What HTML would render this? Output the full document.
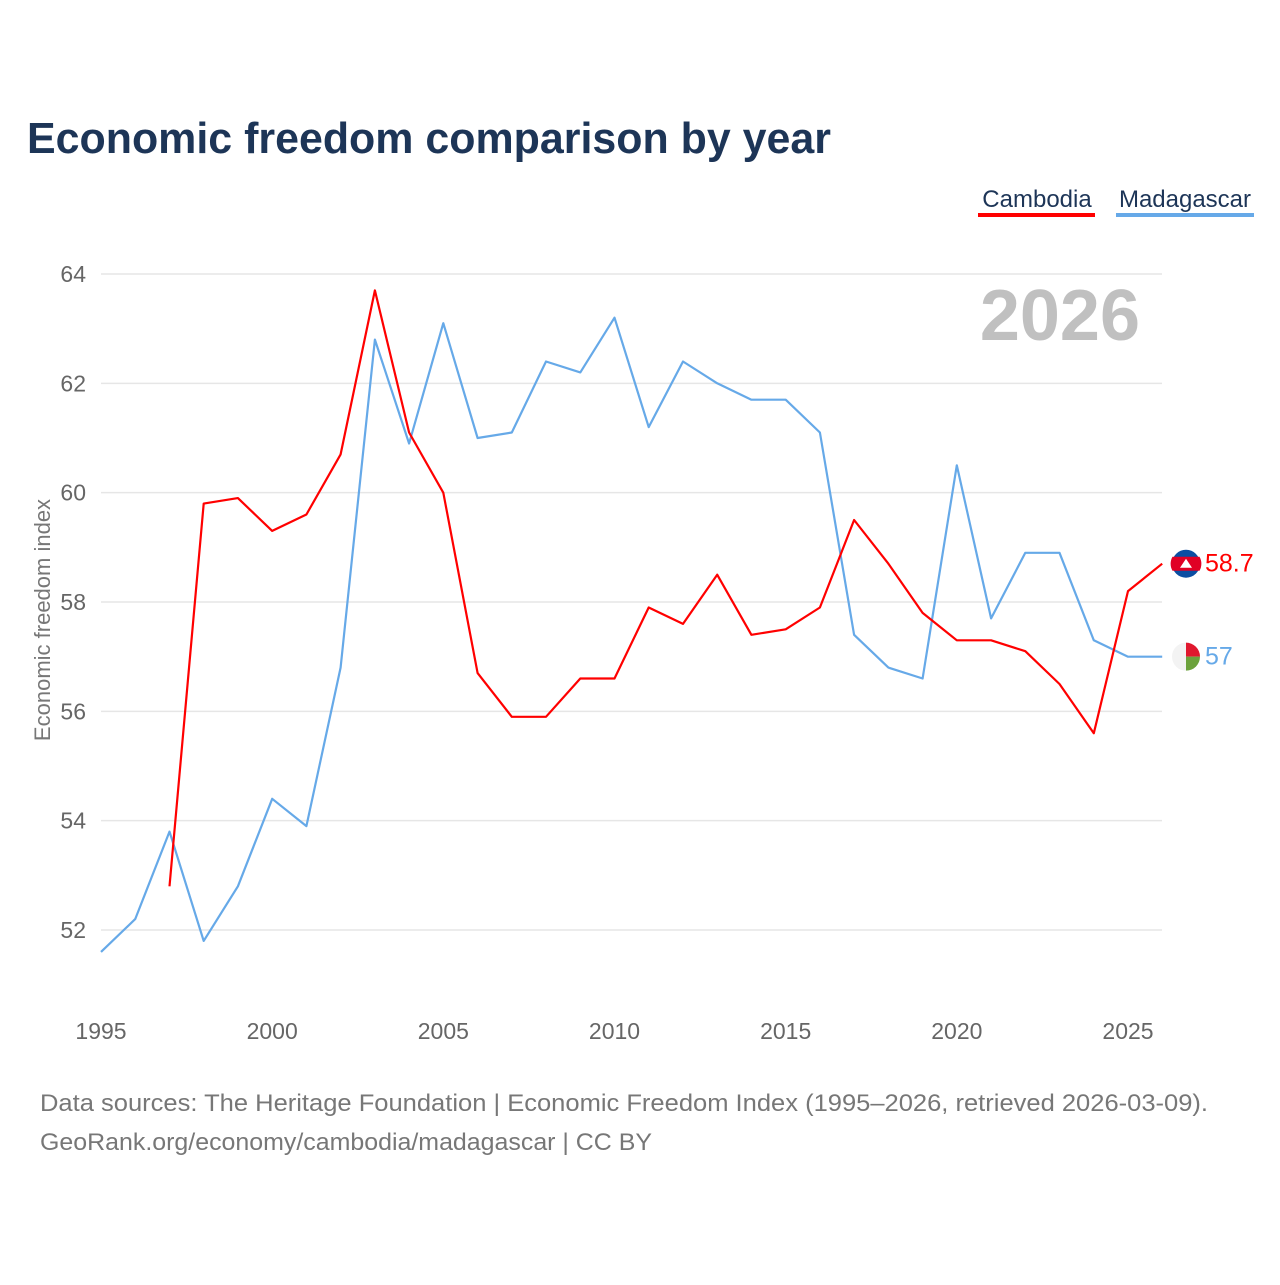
<!DOCTYPE html>
<html><head><meta charset="utf-8"><style>
body{margin:0;background:#fff;font-family:"Liberation Sans",sans-serif;}
</style></head><body>
<svg id="chart" width="1280" height="1280" viewBox="0 0 1280 1280" xmlns="http://www.w3.org/2000/svg" font-family="Liberation Sans, sans-serif">
<rect width="1280" height="1280" fill="#fff"/>
<text x="27" y="153" font-size="44" font-weight="bold" fill="#1d3557" textLength="804" lengthAdjust="spacingAndGlyphs">Economic freedom comparison by year</text>
<g>
<text x="1037" y="207" font-size="24" fill="#1d3557" text-anchor="middle">Cambodia</text>
<rect x="978" y="213" width="117" height="4" fill="#ff0000"/>
<text x="1185" y="207" font-size="24" fill="#1d3557" text-anchor="middle">Madagascar</text>
<rect x="1116" y="213" width="138" height="4" fill="#66a9e8"/>
</g>
<text x="1140" y="340" font-size="72" font-weight="bold" fill="#c0c0c0" text-anchor="end">2026</text>
<text transform="translate(50,620) rotate(-90)" font-size="22" fill="#777" text-anchor="middle">Economic freedom index</text>
<g id="grid"></g><g id="lines"></g><g id="ends"></g>
<text x="40" y="1111" font-size="24" fill="#777" textLength="1168" lengthAdjust="spacingAndGlyphs">Data sources: The Heritage Foundation | Economic Freedom Index (1995–2026, retrieved 2026-03-09).</text>
<text x="40" y="1150" font-size="24" fill="#777" textLength="612" lengthAdjust="spacingAndGlyphs">GeoRank.org/economy/cambodia/madagascar | CC BY</text>
</svg>
<script>
const years = [1995,1996,1997,1998,1999,2000,2001,2002,2003,2004,2005,2006,2007,2008,2009,2010,2011,2012,2013,2014,2015,2016,2017,2018,2019,2020,2021,2022,2023,2024,2025,2026];
const cambodia = [null,null,52.8,59.8,59.9,59.3,59.6,60.7,63.7,61.1,60.0,56.7,55.9,55.9,56.6,56.6,57.9,57.6,58.5,57.4,57.5,57.9,59.5,58.7,57.8,57.3,57.3,57.1,56.5,55.6,58.2,58.7];
const madagascar = [51.6,52.2,53.8,51.8,52.8,54.4,53.9,56.8,62.8,60.9,63.1,61.0,61.1,62.4,62.2,63.2,61.2,62.4,62.0,61.7,61.7,61.1,57.4,56.8,56.6,60.5,57.7,58.9,58.9,57.3,57.0,57.0];
const yTicks = [52,54,56,58,60,62,64];
const xTicks = [1995,2000,2005,2010,2015,2020,2025];
const NS="http://www.w3.org/2000/svg";
const x = v => 101 + (v-1995)*(1027/30);
const y = v => 930 - (v-52)*(656/12);
function mk(tag, attrs, parent){const e=document.createElementNS(NS,tag);for(const k in attrs)e.setAttribute(k,attrs[k]);parent.appendChild(e);return e;}
const grid=document.getElementById('grid');
yTicks.forEach(t=>{
  const l=mk('line',{x1:101,x2:1162,y1:y(t),y2:y(t),stroke:'#e6e6e6','stroke-width':1.5},grid);
  
  
  const tx=mk('text',{x:86,y:y(t)+8,'font-size':23,fill:'#666','text-anchor':'end'},grid);
  tx.textContent=t;
  
  
});
xTicks.forEach(t=>{
  const tx=mk('text',{x:x(t),y:1039,'font-size':23,fill:'#666','text-anchor':'middle'},grid);
  tx.textContent=t;
  
  
});
function line(vals,color,name){
  let d='';vals.forEach((v,i)=>{if(v==null)return;d+=(d?'L':'M')+x(years[i]).toFixed(1)+','+y(v).toFixed(1);});
  const p=mk('path',{d:d,fill:'none',stroke:color,'stroke-width':2.2,'stroke-linejoin':'round'},document.getElementById('lines'));
  
  
}
line(madagascar,'#66a9e8','madagascar-line');
line(cambodia,'#ff0000','cambodia-line');
const ends=document.getElementById('ends');
const li=years.length-1;
const cy=y(cambodia[li]);
const cg=mk('g',{},ends);


mk('circle',{cx:1186,cy:cy,r:14,fill:'#0b4ea2'},cg);
mk('path',{d:`M1172.5 ${cy-7}H1199.5A14 14 0 0 1 1199.5 ${cy+7}H1172.5A14 14 0 0 1 1172.5 ${cy-7}Z`,fill:'#e00025'},cg);
mk('path',{d:`M1180 ${cy+4}L1186 ${cy-5}L1192 ${cy+4}Z`,fill:'#fff'},cg);
const ct=mk('text',{x:1205,y:cy+8,'font-size':25,fill:'#ff0000'},ends);
ct.textContent=cambodia[li];


const my=y(madagascar[li]);
const mg=mk('g',{},ends);


mk('path',{d:`M1186 ${my-14}A14 14 0 0 1 1200 ${my}L1186 ${my}Z`,fill:'#e0182e'},mg);
mk('path',{d:`M1200 ${my}A14 14 0 0 1 1186 ${my+14}L1186 ${my}Z`,fill:'#6ca23c'},mg);
mk('path',{d:`M1186 ${my-14}A14 14 0 0 0 1186 ${my+14}Z`,fill:'#f3f3f3'},mg);
const mt=mk('text',{x:1205,y:my+8,'font-size':25,fill:'#66a9e8'},ends);
mt.textContent=madagascar[li];


</script>
</body></html>
